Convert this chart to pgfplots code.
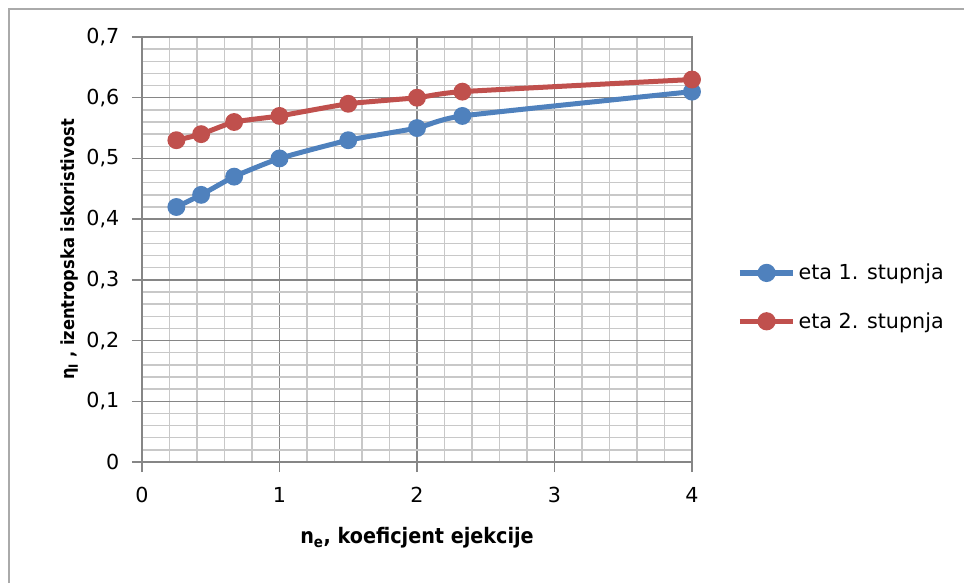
\documentclass[border=0pt]{standalone}
\usepackage{fontspec}
\setmainfont{DejaVu Sans}
\newfontfamily\labelfont{DejaVu Sans Condensed}
\usepackage{pgfplots}
\pgfplotsset{compat=1.18}

\definecolor{serblue}{RGB}{79,129,189}
\definecolor{serred}{RGB}{192,80,77}
\definecolor{majgrid}{RGB}{134,134,134}
\definecolor{mingrid}{RGB}{200,200,200}
\definecolor{frame}{RGB}{170,170,170}

\begin{document}
\begin{tikzpicture}
% picture is 964x583 px, 1px = 0.75pt
\path[use as bounding box] (0,0) rectangle (723pt,437.25pt);
\draw[frame, line width=1.5pt] (6.75pt,0) -- (6.75pt,430.5pt) -- (723pt,430.5pt);

\begin{axis}[
    at={(106.5pt,90.75pt)}, anchor=south west,
    scale only axis,
    width=412.5pt, height=318.75pt,
    xmin=0, xmax=4, ymin=0, ymax=0.7,
    xtick={0,1,2,3,4},
    ytick={0,0.1,0.2,0.3,0.4,0.5,0.6,0.7},
    yticklabels={0,{0,1},{0,2},{0,3},{0,4},{0,5},{0,6},{0,7}},
    minor x tick num=4,
    minor y tick num=4,
    grid=both,
    major grid style={majgrid, line width=1pt},
    minor grid style={mingrid, line width=1pt},
    axis line style={majgrid, line width=1pt},
    tick style={majgrid, line width=1pt},
    major tick length=7.5pt,
    minor tick length=0pt,
    tick align=outside,
    xtick pos=left, ytick pos=left,
    /pgf/number format/assume math mode=true,
    tick label style={font=\fontsize{15.5}{18}\selectfont, black},
    yticklabel style={xshift=-6pt},
    xticklabel style={yshift=-8pt},
    xlabel={\textbf{n\textsubscript{e}, koeficjent ejekcije}},
    ylabel={\textbf{η\textsubscript{I} , izentropska iskoristivost}},
    every axis x label/.style={at={(axis description cs:0.5,-0.179)}, anchor=center,
        font=\labelfont\fontsize{16}{18}\selectfont},
    every axis y label/.style={at={(axis description cs:-0.131,0.5)}, anchor=center, rotate=90,
        font=\labelfont\fontsize{13.6}{16}\selectfont},
    legend style={
        at={(rel axis cs:1.0818,0.388)}, anchor=west,
        draw=none, fill=none, inner sep=0pt,
        font=\fontsize{15.5}{18}\selectfont,
        row sep=19pt,
        nodes={inner sep=2pt},
    },
    legend cell align=left,
    legend image code/.code={
        \draw[#1, mark repeat=2, mark phase=2, line width=4pt]
            plot coordinates {(0pt,0pt) (20pt,0pt) (40pt,0pt)};
    },
]

\addplot[serblue, line width=3.75pt, smooth, tension=0.3, mark=*, mark size=4.8pt,
    mark options={solid, fill=serblue}] coordinates {
    (0.25, 0.42)
    (0.43, 0.44)
    (0.67, 0.47)
    (1.00, 0.50)
    (1.50, 0.53)
    (2.00, 0.55)
    (2.33, 0.57)
    (4.00, 0.61)
};
\addlegendentry{eta 1. stupnja}

\addplot[serred, line width=3.75pt, smooth, tension=0.3, mark=*, mark size=4.8pt,
    mark options={solid, fill=serred}] coordinates {
    (0.25, 0.53)
    (0.43, 0.54)
    (0.67, 0.56)
    (1.00, 0.57)
    (1.50, 0.59)
    (2.00, 0.60)
    (2.33, 0.61)
    (4.00, 0.63)
};
\addlegendentry{eta 2. stupnja}

\end{axis}
\end{tikzpicture}
\end{document}
